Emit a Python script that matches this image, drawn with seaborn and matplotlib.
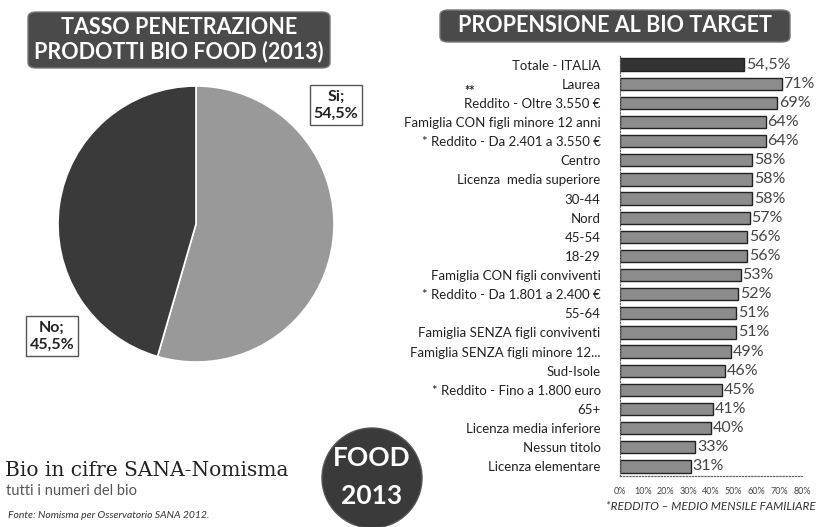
import matplotlib
matplotlib.use("Agg")
import matplotlib.pyplot as plt
import seaborn as sns
import pandas as pd
from matplotlib.patches import FancyBboxPatch, Circle

sns.set_theme(style="white")
plt.rcParams['font.family'] = ['Lato', 'DejaVu Sans']

# ---- data ----
pie_labels = ["Si", "No"]
pie_values = [54.5, 45.5]

categories = [
    "Totale - ITALIA", "Laurea", "Reddito - Oltre 3.550 €",
    "Famiglia CON figli minore 12 anni", "* Reddito - Da 2.401 a 3.550 €",
    "Centro", "Licenza  media superiore", "30-44", "Nord", "45-54", "18-29",
    "Famiglia CON figli conviventi", "* Reddito - Da 1.801 a 2.400 €", "55-64",
    "Famiglia SENZA figli conviventi", "Famiglia SENZA figli minore 12...",
    "Sud-Isole", "* Reddito - Fino a 1.800 euro", "65+",
    "Licenza media inferiore", "Nessun titolo", "Licenza elementare",
]
values = [54.5, 71, 69, 64, 64, 58, 58, 58, 57, 56, 56, 53, 52, 51, 51, 49,
          46, 45, 41, 40, 33, 31]
value_labels = ["54,5%"] + [f"{int(v)}%" for v in values[1:]]
xticks = [0, 10, 20, 30, 40, 50, 60, 70, 80]
xtick_labels = [f"{t}%" for t in xticks]

W, H = 822, 527
fig = plt.figure(figsize=(W / 100, H / 100), dpi=100)
fig.patch.set_facecolor("white")

def fx(x):
    return x / W

def fy(y):
    return 1 - y / H

# ---- pie ----
cx, cy, r = 196, 224, 138
ax_pie = fig.add_axes([fx(cx - r), fy(cy + r), 2 * r / W, 2 * r / H])
ax_pie.pie(pie_values, colors=["#999999", "#3a3a3a"], startangle=90,
           counterclock=False, wedgeprops=dict(edgecolor="white", linewidth=1.2))
ax_pie.set_xlim(-1, 1)
ax_pie.set_ylim(-1, 1)
ax_pie.set_aspect("auto")
ax_pie.axis("off")

fig.text(fx(336), fy(105), f"{pie_labels[0]};\n{str(pie_values[0]).replace('.', ',')}%",
         ha="center", va="center", fontsize=11.5, fontweight="bold", color="#222",
         linespacing=1.3,
         bbox=dict(boxstyle="square,pad=0.25", fc="white", ec="#555", lw=1))
fig.text(fx(52), fy(336), f"{pie_labels[1]};\n{str(pie_values[1]).replace('.', ',')}%",
         ha="center", va="center", fontsize=11.5, fontweight="bold", color="#222",
         linespacing=1.3,
         bbox=dict(boxstyle="square,pad=0.25", fc="white", ec="#555", lw=1))

# title boxes
def title_box(x0, y0, x1, y1, text, size):
    p = FancyBboxPatch((fx(x0), fy(y1)), fx(x1 - x0), (y1 - y0) / H,
                       boxstyle="round,pad=0,rounding_size=0.01",
                       transform=fig.transFigure, fc="#4a4a4a", ec="#777",
                       lw=1, zorder=0)
    fig.patches.append(p)
    fig.text(fx((x0 + x1) / 2), fy((y0 + y1) / 2), text, ha="center",
             va="center", color="white", fontsize=size, fontweight="bold",
             linespacing=1.15)

title_box(28, 12, 330, 68, "TASSO PENETRAZIONE\nPRODOTTI BIO FOOD (2013)", 15.5)
title_box(440, 10, 790, 42, "PROPENSIONE AL BIO TARGET", 15.5)

# ---- bars ----
df = pd.DataFrame({"categoria": categories, "valore": values})
top, bottom = 55, 476
ax = fig.add_axes([fx(620), fy(bottom), fx(802 - 620), (bottom - top) / H])
palette = ["#333333"] + ["#8c8c8c"] * (len(values) - 1)
sns.barplot(data=df, x="valore", y="categoria", hue="categoria", palette=palette,
            legend=False, ax=ax, width=0.64, edgecolor="#222", linewidth=1.0,
            orient="h")
ax.set_xlim(0, 80)
ax.set_xticks(xticks)
ax.set_xticklabels(xtick_labels, fontsize=6.5, color="#444")
ax.tick_params(axis="y", labelsize=9.5, colors="#222", length=3, pad=11)
ax.tick_params(axis="x", length=0, pad=8)
ax.set_xlabel("")
ax.set_ylabel("")
for s in ["top", "right"]:
    ax.spines[s].set_visible(False)
for s in ["left", "bottom"]:
    ax.spines[s].set_color("#666")
    ax.spines[s].set_linestyle((0, (1, 1.5)))
    ax.spines[s].set_linewidth(0.9)
for i, (v, lab) in enumerate(zip(values, value_labels)):
    ax.text(v + 0.8, i, lab, va="center", ha="left", fontsize=11.5,
            color="#444")

fig.text(fx(464), fy(91), "**", fontsize=9, color="#222", ha="left", va="center",
         fontweight="bold")

# ---- footer ----
fig.text(fx(5), fy(470), "Bio in cifre SANA-Nomisma", fontsize=14.5,
         family=["DejaVu Serif"], color="#222", va="center", ha="left")
fig.text(fx(6), fy(491), "tutti i numeri del bio", fontsize=10.5, color="#555",
         va="center", ha="left")
fig.text(fx(8), fy(515), "Fonte: Nomisma per Osservatorio SANA 2012.",
         fontsize=7.5, style="italic", color="#333", va="center", ha="left")

circ = Circle((372 / 100, (H - 478) / 100), 0.5, transform=fig.dpi_scale_trans,
              fc="#3a3a3a", ec="#555")
fig.patches.append(circ)
fig.text(fx(372), fy(458), "FOOD", ha="center", va="center", color="white",
         fontsize=19, fontweight="bold")
fig.text(fx(372), fy(496), "2013", ha="center", va="center", color="white",
         fontsize=19, fontweight="bold")

fig.text(fx(711), fy(507), "*REDDITO – MEDIO MENSILE FAMILIARE", fontsize=8.5,
         style="italic", color="#333", ha="center", va="center")

fig.savefig("out.png", dpi=100, facecolor="white")
